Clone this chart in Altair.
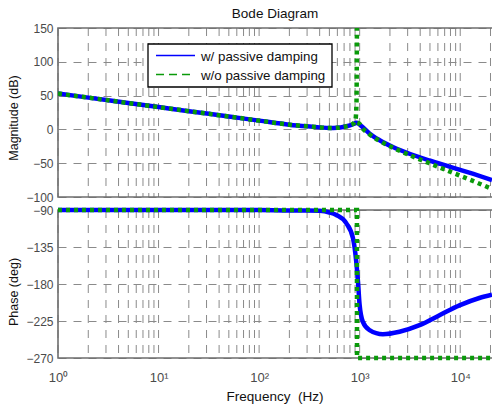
import altair as alt
import pandas as pd

# ---- Bode data: magnitude (dB) and phase (deg) against frequency (Hz) ----
series_names = ["w/ passive damping", "w/o passive damping"]

freq_mag_damped = [1, 2, 5, 10, 20, 50, 100, 200, 300, 400, 500, 600, 700, 800,
                   870, 930, 980, 1040, 1250, 1580, 2140, 3130, 4940, 7810, 12300, 20700]
mag_damped = [53, 47, 39, 33, 27, 19, 13, 7, 4.5, 3, 2, 2.5, 4, 6,
              8, 10, 8, 5, -6, -16, -26, -36, -46, -55, -64, -75]

# undamped magnitude: rising branch up to the resonance, falling branch after it
freq_mag_undamped_rise = [1, 2, 5, 10, 20, 50, 100, 200, 300, 400, 500, 600, 700,
                          800, 870, 910, 930, 940]
mag_undamped_rise = [53, 47, 39, 33, 27, 19, 13, 7, 4.5, 3, 2, 2.5, 4,
                     6, 9, 15, 40, 170]
freq_mag_undamped_fall = [948, 1000, 1040, 1250, 1580, 2140, 3130, 4940, 7810, 12300, 20700]
mag_undamped_fall = [10, 8, 4, -7, -17, -27, -38, -50, -62, -74, -88]

freq_ph_damped = [1, 10, 100, 200, 300, 400, 500, 585, 735, 857, 925, 962, 998,
                  1076, 1253, 1700, 2490, 3940, 6220, 9820, 15500, 20700]
ph_damped = [-90, -90, -90, -90.5, -90.5, -91, -93, -96, -106, -124, -153, -177, -205,
             -226, -236, -241, -238, -230, -218, -206, -197, -193]

freq_ph_undamped = [1, 939, 941, 20700]
ph_undamped = [-90, -90, -270, -270]

# ---- axes ----
f_min, f_max = 1, 20700
decades = [1, 10, 100, 1000, 10000]
decade_labels = ["10\u2070", "10\u00b9", "10\u00b2", "10\u00b3", "10\u2074"]
mag_ticks = [-100, -50, 0, 50, 100, 150]
phase_ticks = [-270, -225, -180, -135, -90]

plot_title = "Bode Diagram"
x_title = "Frequency\u00a0 (Hz)"
mag_title = "Magnitude (dB)"
phase_title = "Phase (deg)"

x_ticks = [m * d for d in decades for m in range(1, 10) if m * d <= f_max]
label_expr = "".join(f"datum.value == {d} ? '{s}' : " for d, s in zip(decades, decade_labels)) + "''"

BLUE = "#0000ff"
GREEN = "#0a9a0a"
FONT = "Liberation Sans"
INK = "#111111"
FRAME = "#6e6e6e"
GRID_COLOR = "#8a8a8a"
GRID_DASH = [8, 7]

# geometry of the two stacked axes (pixels inside the plotting area)
W = 434
MAG_TOP, MAG_BOTTOM = 0, 169
PH_TOP, PH_BOTTOM = 182, 330

x_scale = alt.Scale(type="log", domain=[f_min, f_max], nice=False)
x_axis = alt.Axis(values=x_ticks, labelExpr=label_expr, ticks=False, tickSize=0,
                  domain=False, title=None, grid=False, labelPadding=23, labelFlush=False,
                  labelOverlap=False, labelBaseline="alphabetic", labelFontSize=13)
X = alt.X("f:Q", scale=x_scale, axis=x_axis)

y_grid = dict(grid=True, gridColor=GRID_COLOR, gridWidth=1, gridDash=GRID_DASH)
mag_y_scale = alt.Scale(domain=[-100, 150], nice=False, zero=False, range=[MAG_BOTTOM, MAG_TOP])
ph_y_scale = alt.Scale(domain=[-270, -90], nice=False, zero=False, range=[PH_BOTTOM, PH_TOP])
y_axis_mag = alt.Axis(values=mag_ticks, orient="left", ticks=False, tickSize=0,
                      domain=False, labelPadding=5, labelFontSize=12, title=None, **y_grid)
y_axis_ph = alt.Axis(values=phase_ticks, orient="left", ticks=False, tickSize=0,
                     domain=False, labelPadding=5, labelFontSize=12, title=None, **y_grid)
Y_MAG = alt.Y("v:Q", scale=mag_y_scale, axis=y_axis_mag)
Y_PH = alt.Y("v:Q", scale=ph_y_scale, axis=y_axis_ph)

df_mag_d = pd.DataFrame({"f": freq_mag_damped, "v": mag_damped})
df_mag_u = pd.concat([
    pd.DataFrame({"f": freq_mag_undamped_rise, "v": mag_undamped_rise, "branch": "rise"}),
    pd.DataFrame({"f": freq_mag_undamped_fall, "v": mag_undamped_fall, "branch": "fall"}),
])
df_ph_d = pd.DataFrame({"f": freq_ph_damped, "v": ph_damped})
df_ph_u = pd.DataFrame({"f": freq_ph_undamped, "v": ph_undamped})
df_xgrid = pd.DataFrame({"f": x_ticks})
one = pd.DataFrame({"k": [0]})


def label(text, x, y, size=13, angle=0, baseline="middle", align="center"):
    """A free-standing text placed in plotting-area pixels."""
    kw = dict(align=align, baseline=baseline, font=FONT, fontSize=size, color=INK)
    if angle:
        kw["angle"] = angle
    return alt.Chart(one).mark_text(**kw).encode(
        x=alt.value(x), y=alt.value(y), text=alt.value(text)
    )


def box(x0, x1, y0, y1, **style):
    return alt.Chart(one).mark_rect(**style).encode(
        x=alt.value(x0), x2=alt.value(x1), y=alt.value(y0), y2=alt.value(y1)
    )


def x_grid(y0, y1):
    """Vertical grid lines of one axes box, at the frequency ticks."""
    return alt.Chart(df_xgrid).mark_rule(
        color=GRID_COLOR, strokeWidth=1, strokeDash=GRID_DASH
    ).encode(x=X, y=alt.value(y0), y2=alt.value(y1))


# magnitude axes
mag_blue = alt.Chart(df_mag_d).mark_line(
    color=BLUE, strokeWidth=4.5, interpolate="monotone", clip=True
).encode(x=X, y=Y_MAG)
mag_green = alt.Chart(df_mag_u).mark_line(
    color=GREEN, strokeWidth=4.5, strokeDash=[4, 4], interpolate="monotone", clip=True
).encode(x=X, y=Y_MAG, detail="branch:N")
mag_layer = alt.layer(mag_blue, mag_green)

# phase axes
ph_blue = alt.Chart(df_ph_d).mark_line(
    color=BLUE, strokeWidth=4.5, interpolate="monotone"
).encode(x=X, y=Y_PH)
ph_green = alt.Chart(df_ph_u).mark_line(
    color=GREEN, strokeWidth=4.5, strokeDash=[4, 4]
).encode(x=X, y=Y_PH)
ph_layer = alt.layer(ph_blue, ph_green)

# axes frames
mag_frame = box(0, W + 3, MAG_TOP, MAG_BOTTOM, fill="white", fillOpacity=0,
                stroke=FRAME, strokeWidth=1.6)
ph_frame = box(0, W + 3, PH_TOP, PH_BOTTOM, fill="white", fillOpacity=0,
               stroke=FRAME, strokeWidth=1.6)

# legend inside the magnitude axes
leg_box = box(90, 274, 16, 59, fill="white", stroke="black", strokeWidth=1.3)
leg_line_d = alt.Chart(one).mark_rule(color=BLUE, strokeWidth=1.3).encode(
    x=alt.value(98), x2=alt.value(137), y=alt.value(27.5)
)
leg_line_u = alt.Chart(one).mark_rule(color=GREEN, strokeWidth=1.3, strokeDash=[8, 5]).encode(
    x=alt.value(98), x2=alt.value(137), y=alt.value(46.5)
)

chart = alt.layer(
    x_grid(MAG_TOP, MAG_BOTTOM), x_grid(PH_TOP, PH_BOTTOM),
    mag_frame, ph_frame,
    mag_layer, ph_layer,
    leg_box, leg_line_d, leg_line_u,
    label(series_names[0], 143, 28.5, size=13.3, align="left"),
    label(series_names[1], 143, 47.5, size=13.3, align="left"),
    label(plot_title, W / 2, -14, size=13.5),
    label(mag_title, -40.5, 90, size=12.5, angle=270, baseline="alphabetic"),
    label(phase_title, -40.5, PH_TOP + 82, size=12.5, angle=270, baseline="alphabetic"),
    label(x_title, W / 2, PH_TOP + 187, size=13.5),
).resolve_scale(
    y="independent"
).resolve_axis(
    y="independent"
).properties(
    width=W, height=PH_BOTTOM,
    autosize=alt.AutoSizeParams(type="none"),
    padding={"left": 58, "top": 28, "right": 0, "bottom": 48},
    background="white",
).configure_view(
    stroke=None
).configure_axis(
    labelFont=FONT, labelFontSize=13, labelColor="#4a4a4a",
)

chart.save("out.html", embed_options={"renderer": "svg", "actions": False})
